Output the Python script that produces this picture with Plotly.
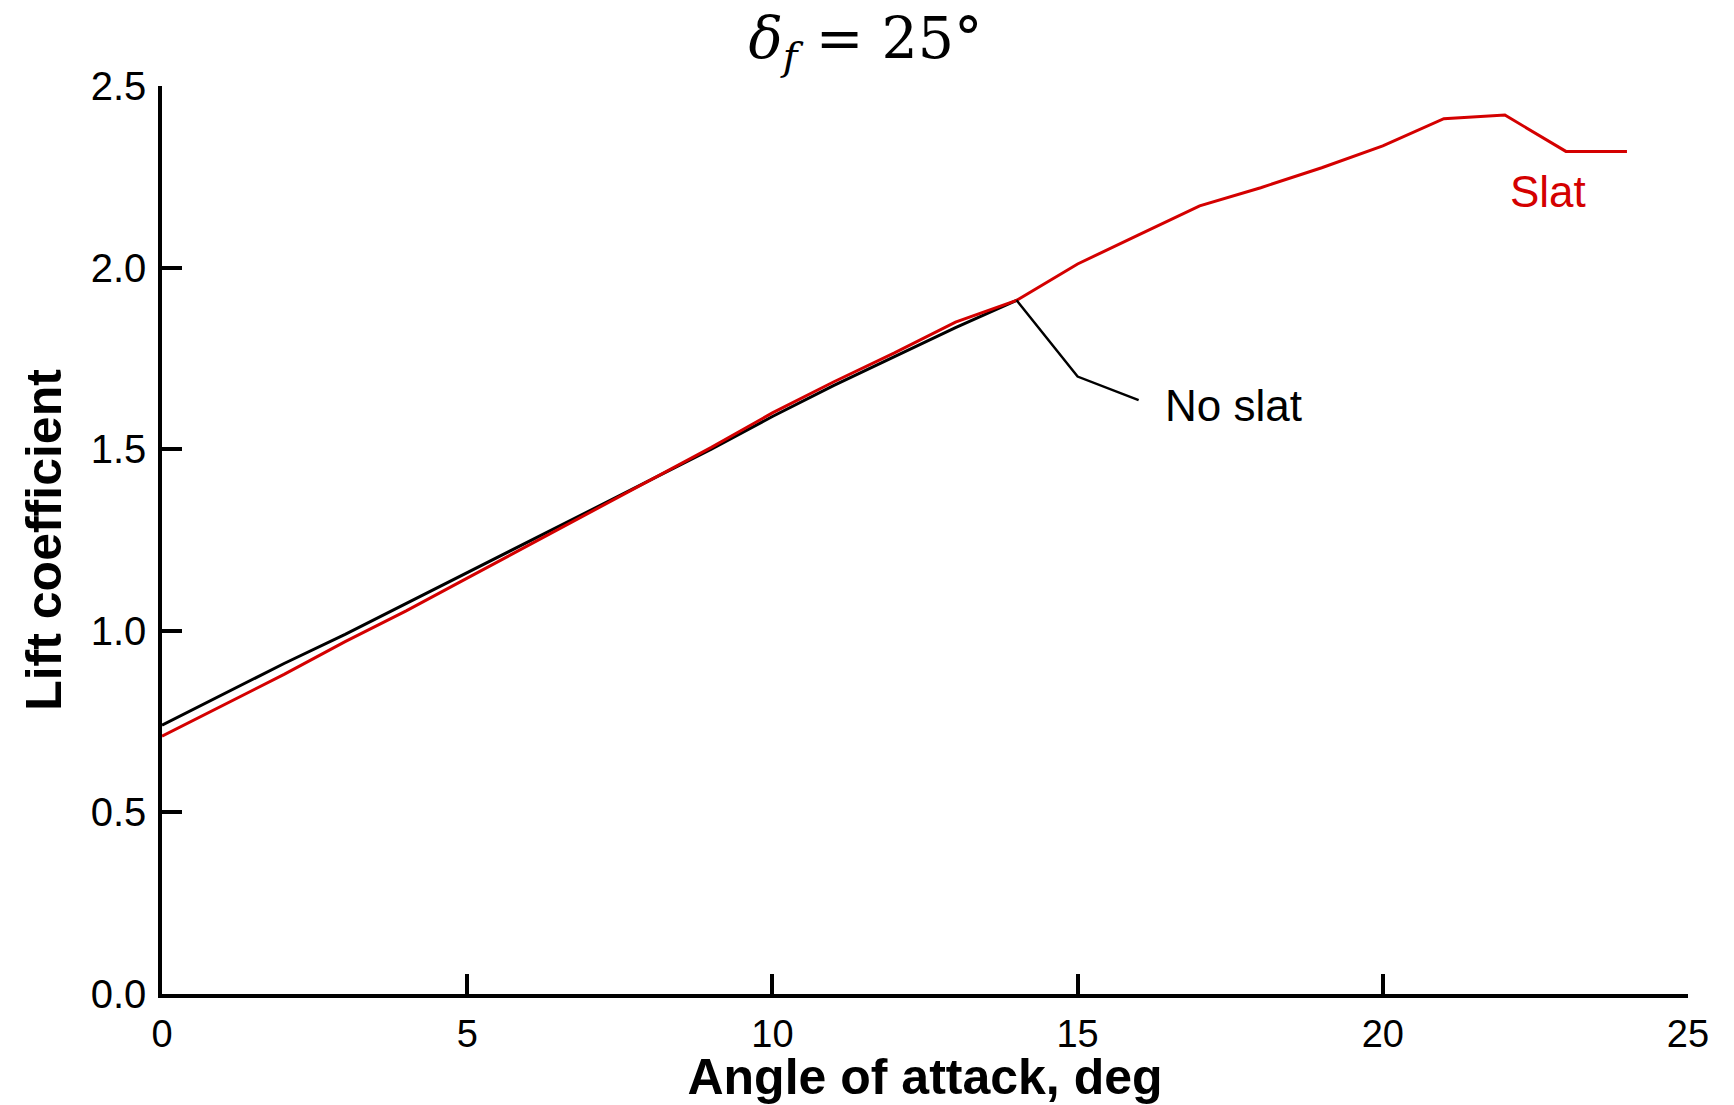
import plotly.graph_objects as go

# Data
alpha_noslat = [0, 1, 2, 3, 4, 5, 6, 7, 8, 9, 10, 11, 12, 13, 14]
cl_noslat = [0.74, 0.825, 0.91, 0.99, 1.075, 1.16, 1.245, 1.33, 1.415, 1.50, 1.59, 1.675, 1.755, 1.835, 1.91]

alpha_slat = [0, 1, 2, 3, 4, 5, 6, 7, 8, 9, 10, 11, 12, 13, 14, 15, 16, 17, 18, 19, 20, 21, 22, 23, 24]
cl_slat = [0.71, 0.795, 0.88, 0.97, 1.055, 1.145, 1.235, 1.325, 1.415, 1.505, 1.60, 1.685, 1.765, 1.85, 1.91,
           2.01, 2.09, 2.17, 2.22, 2.275, 2.335, 2.41, 2.42, 2.32, 2.32]

leader_x = [14.0, 15.0, 16.0]
leader_y = [1.91, 1.70, 1.635]

x_ticks = [0, 5, 10, 15, 20, 25]
y_ticks = [0.0, 0.5, 1.0, 1.5, 2.0, 2.5]
y_tick_labels = ["0.0", "0.5", "1.0", "1.5", "2.0", "2.5"]

fig = go.Figure()
fig.add_trace(go.Scatter(x=alpha_noslat, y=cl_noslat, mode="lines",
                         line=dict(color="black", width=3), name="No slat", showlegend=False))
fig.add_trace(go.Scatter(x=alpha_slat, y=cl_slat, mode="lines",
                         line=dict(color="#d40000", width=3), name="Slat", showlegend=False))
fig.add_trace(go.Scatter(x=leader_x, y=leader_y, mode="lines",
                         line=dict(color="black", width=2.5), showlegend=False, hoverinfo="skip"))

fig.add_annotation(x=17.56, y=1.62, text="No slat", showarrow=False,
                   font=dict(family="Arial, Liberation Sans", size=44, color="black"))
fig.add_annotation(x=22.7, y=2.21, text="Slat", showarrow=False,
                   font=dict(family="Arial, Liberation Sans", size=44, color="#d40000"))

fig.update_layout(
    width=1734, height=1105,
    margin=dict(l=162, r=46, t=86, b=111, autoexpand=False),
    plot_bgcolor="white", paper_bgcolor="white",
    title=dict(text="<i>δ</i><sub><i>f</i></sub> = 25°", x=0.461, xref="paper", xanchor="center",
               y=1 - 38 / 1105, yref="container", yanchor="middle", automargin=False,
               font=dict(family="DejaVu Serif", size=57, color="black")),
    font=dict(family="Arial, Liberation Sans", color="black"),
)
fig.update_xaxes(range=[0, 25], tickvals=x_ticks, ticks="inside", ticklen=20, tickwidth=3.5,
                 tickcolor="black", showline=True, linecolor="black", linewidth=3.5,
                 showgrid=False, zeroline=False, tickfont=dict(size=38), automargin=False,
                 ticklabelstandoff=4,
                 title=dict(text="<b>Angle of attack, deg</b>", font=dict(size=50), standoff=4))
fig.update_yaxes(range=[0, 2.5], tickvals=y_ticks, ticktext=y_tick_labels, ticks="inside",
                 ticklen=20, tickwidth=3.5, tickcolor="black", showline=True, linecolor="black",
                 linewidth=3.5, showgrid=False, zeroline=False, tickfont=dict(size=40),
                 automargin=False, ticklabelstandoff=4,
                 title=dict(text="<b>Lift coefficient</b>", font=dict(size=50), standoff=14))

fig.write_html("out.html", config={"displayModeBar": False},
               post_script="document.body.style.margin='0';")
